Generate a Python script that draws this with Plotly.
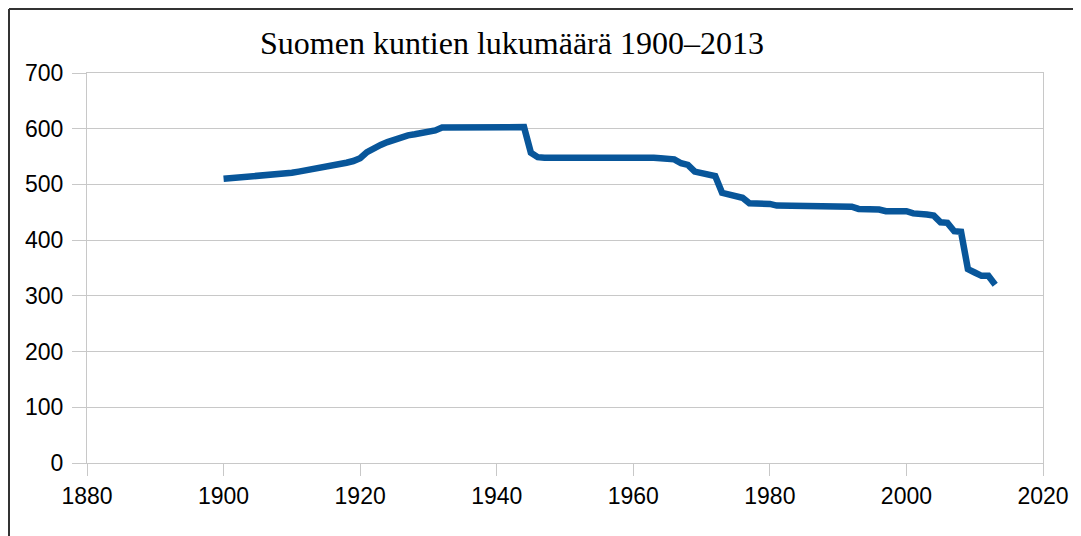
import plotly.graph_objects as go

years = list(range(1900, 2014))
counts = [
    510, 511, 512, 512, 513, 514, 515, 516, 518, 519,   # 1900-1909
    521, 523, 525, 527, 529, 531, 533, 536, 539, 542,   # 1910-1919
    547, 558, 566, 571, 576, 581, 585, 588, 590, 592,   # 1920-1929
    594, 597, 602, 602, 602, 602, 603, 603, 603, 603,   # 1930-1939
    603, 603, 604, 604, 603, 557, 549, 548, 548, 548,   # 1940-1949
    549, 550, 550, 549, 549, 549, 550, 550, 549, 549,   # 1950-1959
    549, 549, 549, 548, 547, 546, 545, 538, 535, 523,   # 1960-1969
    520, 518, 515, 485, 482, 478, 476, 466, 466, 466,   # 1970-1979
    465, 462, 462, 462, 462, 462, 462, 462, 461, 461,   # 1980-1989
    461, 461, 460, 456, 456, 456, 455, 452, 452, 452,   # 1990-1999
    452, 448, 448, 446, 444, 432, 431, 416, 415, 348,   # 2000-2009
    342, 336, 336, 320,                                  # 2010-2013
]

title_text = "Suomen kuntien lukumäärä 1900–2013"
x_ticks = [1880, 1900, 1920, 1940, 1960, 1980, 2000, 2020]
y_ticks = [0, 100, 200, 300, 400, 500, 600, 700]

# page body has an 8px margin, so positions are shifted by -8
OFF = 8
W, H = 1081, 536
L, R, T, B = 87 - OFF, 1043 - OFF, 73 - OFF, 463 - OFF

fig = go.Figure()
fig.add_trace(go.Scatter(
    x=years, y=counts, mode="lines",
    line=dict(color="#08569a", width=6.5),
    hoverinfo="x+y", showlegend=False,
))

grid = "#c8c8c8"
tickfont = dict(family="Liberation Sans, Arial, sans-serif", size=23, color="#000000")

fig.update_layout(
    width=W, height=H,
    margin=dict(l=L, r=W - R, t=T, b=H - B, pad=0),
    paper_bgcolor="white", plot_bgcolor="white",
    title=dict(
        text=title_text,
        font=dict(family="Liberation Serif, Times New Roman, serif", size=32, color="#000000"),
        x=(512 - OFF) / W, xanchor="center", xref="container",
        y=1 - (43 - OFF) / H, yanchor="middle", yref="container",
    ),
    xaxis=dict(
        range=[1880, 2020], tickvals=x_ticks, ticktext=[str(v) for v in x_ticks],
        showgrid=False, zeroline=False,
        showline=True, mirror=True, linecolor=grid, linewidth=1.3,
        ticks="outside", ticklen=12, tickcolor=grid, tickwidth=1.3,
        tickfont=tickfont, ticklabelstandoff=0,
    ),
    yaxis=dict(
        range=[0, 700], tickvals=y_ticks, ticktext=[str(v) for v in y_ticks],
        showgrid=True, gridcolor=grid, gridwidth=1.3, zeroline=False,
        showline=True, mirror=True, linecolor=grid, linewidth=1.3,
        ticks="outside", ticklen=14, tickcolor=grid, tickwidth=1.3,
        tickfont=tickfont, ticklabelstandoff=4,
    ),
)

# outer frame (left and top dark border)
px = lambda v: (v - L) / (R - L)
py = lambda v: (B - v) / (B - T)
fig.add_shape(type="line", xref="paper", yref="paper",
              x0=px(1), x1=px(1), y0=py(1), y1=py(H + 5),
              line=dict(color="#333333", width=2))
fig.add_shape(type="line", xref="paper", yref="paper",
              x0=px(1), x1=px(W + 5), y0=py(1), y1=py(1),
              line=dict(color="#333333", width=2))

fig.write_html("out.html")
